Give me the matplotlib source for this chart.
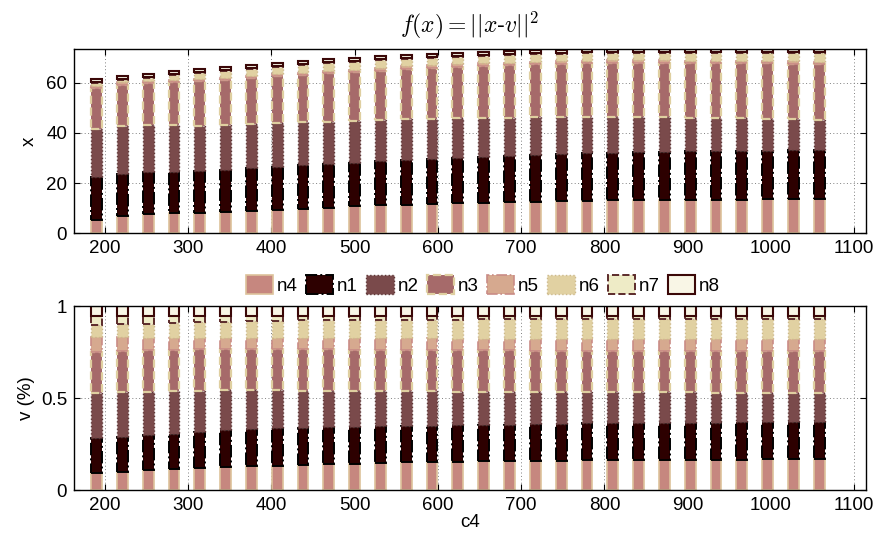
import matplotlib
matplotlib.use("Agg")
import matplotlib.pyplot as plt
from matplotlib.patches import Patch

plt.rcParams['font.family'] = ['Liberation Sans', 'DejaVu Sans']
plt.rcParams['mathtext.fontset'] = 'cm'

# bar positions (c4)
c4 = [190, 221, 252, 283, 314, 345, 376, 407, 438, 469, 500, 531, 562, 593, 624,
      655, 686, 717, 748, 779, 810, 841, 872, 903, 934, 965, 996, 1027, 1058]

names = ['n4', 'n1', 'n2', 'n3', 'n5', 'n6', 'n7', 'n8']

# top chart: cumulative top of each stacked segment
x_n4 = [5.5, 6.7, 7.6, 8.0, 8.2, 8.6, 9.0, 9.4, 9.8, 10.2, 10.7, 11.1, 11.4, 11.7, 12.0,
        12.2, 12.4, 12.6, 12.8, 12.9, 13.1, 13.2, 13.3, 13.3, 13.4, 13.4, 13.5, 13.5, 13.6]
x_n1 = [22.4, 23.7, 24.4, 24.6, 24.9, 25.3, 26.0, 26.6, 27.1, 27.5, 28.1, 28.7, 29.4, 29.8, 30.2,
        30.6, 30.9, 31.2, 31.5, 31.8, 32.1, 32.3, 32.5, 32.6, 32.7, 32.8, 32.9, 33.0, 33.1]
x_n2 = [41.5, 42.8, 43.2, 43.2, 42.9, 43.1, 43.7, 44.0, 44.3, 44.4, 44.7, 45.1, 45.4, 45.6, 45.8,
        46.0, 46.1, 46.2, 46.3, 46.3, 46.3, 46.2, 46.2, 46.1, 46.0, 45.8, 45.6, 45.4, 45.2]
x_n3 = [57.9, 59.2, 59.9, 60.3, 60.5, 61.1, 61.7, 62.6, 63.1, 63.7, 64.3, 64.8, 65.6, 66.0, 66.4,
        66.8, 67.1, 67.4, 67.6, 67.8, 68.0, 68.0, 68.0, 67.9, 67.9, 67.8, 67.7, 67.6, 67.5]
x_n5 = [58.8, 60.1, 60.8, 61.2, 61.4, 62.0, 62.6, 63.5, 64.0, 64.6, 65.2, 65.7, 66.5, 66.9, 67.3,
        67.7, 68.0, 68.3, 68.5, 68.7, 68.9, 68.9, 68.9, 68.8, 68.8, 68.7, 68.6, 68.5, 68.4]
x_n6 = [60.0, 61.1, 62.0, 62.9, 63.8, 64.6, 65.4, 66.2, 67.0, 67.7, 68.4, 69.0, 69.5, 70.0, 70.4,
        70.8, 71.1, 71.4, 71.6, 71.7, 71.8, 71.9, 71.9, 71.9, 71.9, 71.9, 71.9, 71.9, 71.9]
x_n7 = [60.4, 61.5, 62.4, 63.3, 64.2, 65.0, 65.8, 66.6, 67.4, 68.1, 68.8, 69.4, 69.9, 70.4, 70.8,
        71.2, 71.5, 71.8, 72.0, 72.1, 72.2, 72.3, 72.3, 72.3, 72.3, 72.3, 72.3, 72.3, 72.3]
x_n8 = [61.6, 62.7, 63.6, 64.5, 65.4, 66.2, 67.0, 67.8, 68.6, 69.3, 70.0, 70.6, 71.1, 71.6, 72.0,
        72.4, 72.7, 73.0, 73.2, 73.3, 73.4, 73.5, 73.5, 73.5, 73.5, 73.5, 73.5, 73.5, 73.5]

# bottom chart: cumulative top of each stacked segment (fraction)
v_n4 = [0.090, 0.100, 0.107, 0.112, 0.120, 0.124, 0.128, 0.132, 0.136, 0.140, 0.144, 0.147, 0.150, 0.152, 0.154,
        0.156, 0.157, 0.159, 0.160, 0.161, 0.162, 0.163, 0.164, 0.164, 0.165, 0.165, 0.166, 0.166, 0.167]
v_n1 = [0.281, 0.288, 0.299, 0.305, 0.317, 0.326, 0.332, 0.335, 0.339, 0.341, 0.344, 0.346, 0.348, 0.350, 0.352,
        0.354, 0.356, 0.358, 0.360, 0.362, 0.364, 0.365, 0.366, 0.366, 0.366, 0.367, 0.367, 0.367, 0.367]
v_n2 = [0.525, 0.531, 0.534, 0.536, 0.540, 0.541, 0.541, 0.541, 0.540, 0.540, 0.539, 0.538, 0.537, 0.536, 0.535,
        0.534, 0.533, 0.532, 0.532, 0.531, 0.531, 0.530, 0.530, 0.530, 0.529, 0.529, 0.529, 0.529, 0.529]
v_n3 = [0.752, 0.756, 0.760, 0.763, 0.764, 0.765, 0.765, 0.765, 0.764, 0.764, 0.763, 0.762, 0.762, 0.761, 0.760,
        0.760, 0.759, 0.758, 0.758, 0.757, 0.757, 0.756, 0.756, 0.756, 0.755, 0.755, 0.755, 0.755, 0.755]
v_n5 = [0.830, 0.829, 0.828, 0.828, 0.828, 0.828, 0.827, 0.827, 0.826, 0.826, 0.825, 0.825, 0.824, 0.824, 0.823,
        0.823, 0.822, 0.822, 0.821, 0.821, 0.820, 0.820, 0.820, 0.819, 0.819, 0.819, 0.819, 0.819, 0.819]
v_n6 = [0.897, 0.900, 0.904, 0.908, 0.912, 0.915, 0.918, 0.920, 0.922, 0.923, 0.924, 0.925, 0.925, 0.926, 0.926,
        0.927, 0.927, 0.927, 0.928, 0.928, 0.928, 0.929, 0.929, 0.929, 0.929, 0.929, 0.929, 0.929, 0.929]
v_n7 = [0.946] * 29
v_n8 = [1.0] * 29

fills = ['#C6877F', '#2D0000', '#7A4A4B', '#A66A6A', '#D6A98F', '#E1D1A2', '#EEEBC6', '#F9F6E6']
edges = ['#DDC29B', '#000000', '#5E3636', '#DFCFA0', '#C98C86', '#CDB98A', '#5C2B2B', '#3B0808']
styles = ['-', '-.', ':', '--', '-.', ':', '--', '-']
widths = [1.2, 1.4, 1.0, 1.6, 1.2, 1.0, 1.4, 1.5]


def stacked(ax, tops):
    prev = [0.0] * len(c4)
    for i, top in enumerate(tops):
        h = [t - p for t, p in zip(top, prev)]
        ax.bar(c4, h, width=13, bottom=prev, color=fills[i], edgecolor=edges[i],
               linestyle=styles[i], linewidth=widths[i], zorder=2 + i * 0.01)
        prev = top


def style_axes(ax):
    ax.set_xlim(163, 1114)
    ax.set_xticks(range(200, 1101, 100))
    ax.grid(True, linestyle=(0, (1, 2.5)), color='0.5', linewidth=0.7, zorder=0)
    ax.set_axisbelow(True)
    ax.tick_params(direction='in', top=True, right=True, length=4, labelsize=13.5, pad=5)
    for s in ax.spines.values():
        s.set_linewidth(1.0)


fig = plt.figure(figsize=(8.83, 5.45), dpi=100)
ax1 = fig.add_axes([0.0838, 0.5719, 0.8969, 0.3376])
ax2 = fig.add_axes([0.0838, 0.1009, 0.8969, 0.3376])

stacked(ax1, [x_n4, x_n1, x_n2, x_n3, x_n5, x_n6, x_n7, x_n8])
style_axes(ax1)
ax1.set_ylim(0, 73.3)
ax1.set_yticks([0, 20, 40, 60])
ax1.set_ylabel('x', fontsize=13.5, labelpad=6)
ax1.set_title(r'$f(x) = ||x$-$v||^2$', fontsize=17, pad=12)

stacked(ax2, [v_n4, v_n1, v_n2, v_n3, v_n5, v_n6, v_n7, v_n8])
style_axes(ax2)
ax2.set_ylim(0, 1)
ax2.set_yticks([0, 0.5, 1])
ax2.set_yticklabels(['0', '0.5', '1'])
ax2.set_ylabel('v (%)', fontsize=13.5, labelpad=4)
ax2.set_xlabel('c4', fontsize=13.5, labelpad=0)

handles = [Patch(facecolor=fills[i], edgecolor=edges[i], linestyle=styles[i],
                 linewidth=widths[i], label=names[i]) for i in range(8)]
fig.legend(handles=handles, loc='center', bbox_to_anchor=(0.547, 0.477), ncol=8,
           frameon=False, fontsize=13.5, handlelength=1.45, handleheight=1.15,
           handletextpad=0.2, columnspacing=0.45, borderpad=0.2)

fig.savefig('out.png', dpi=100)
